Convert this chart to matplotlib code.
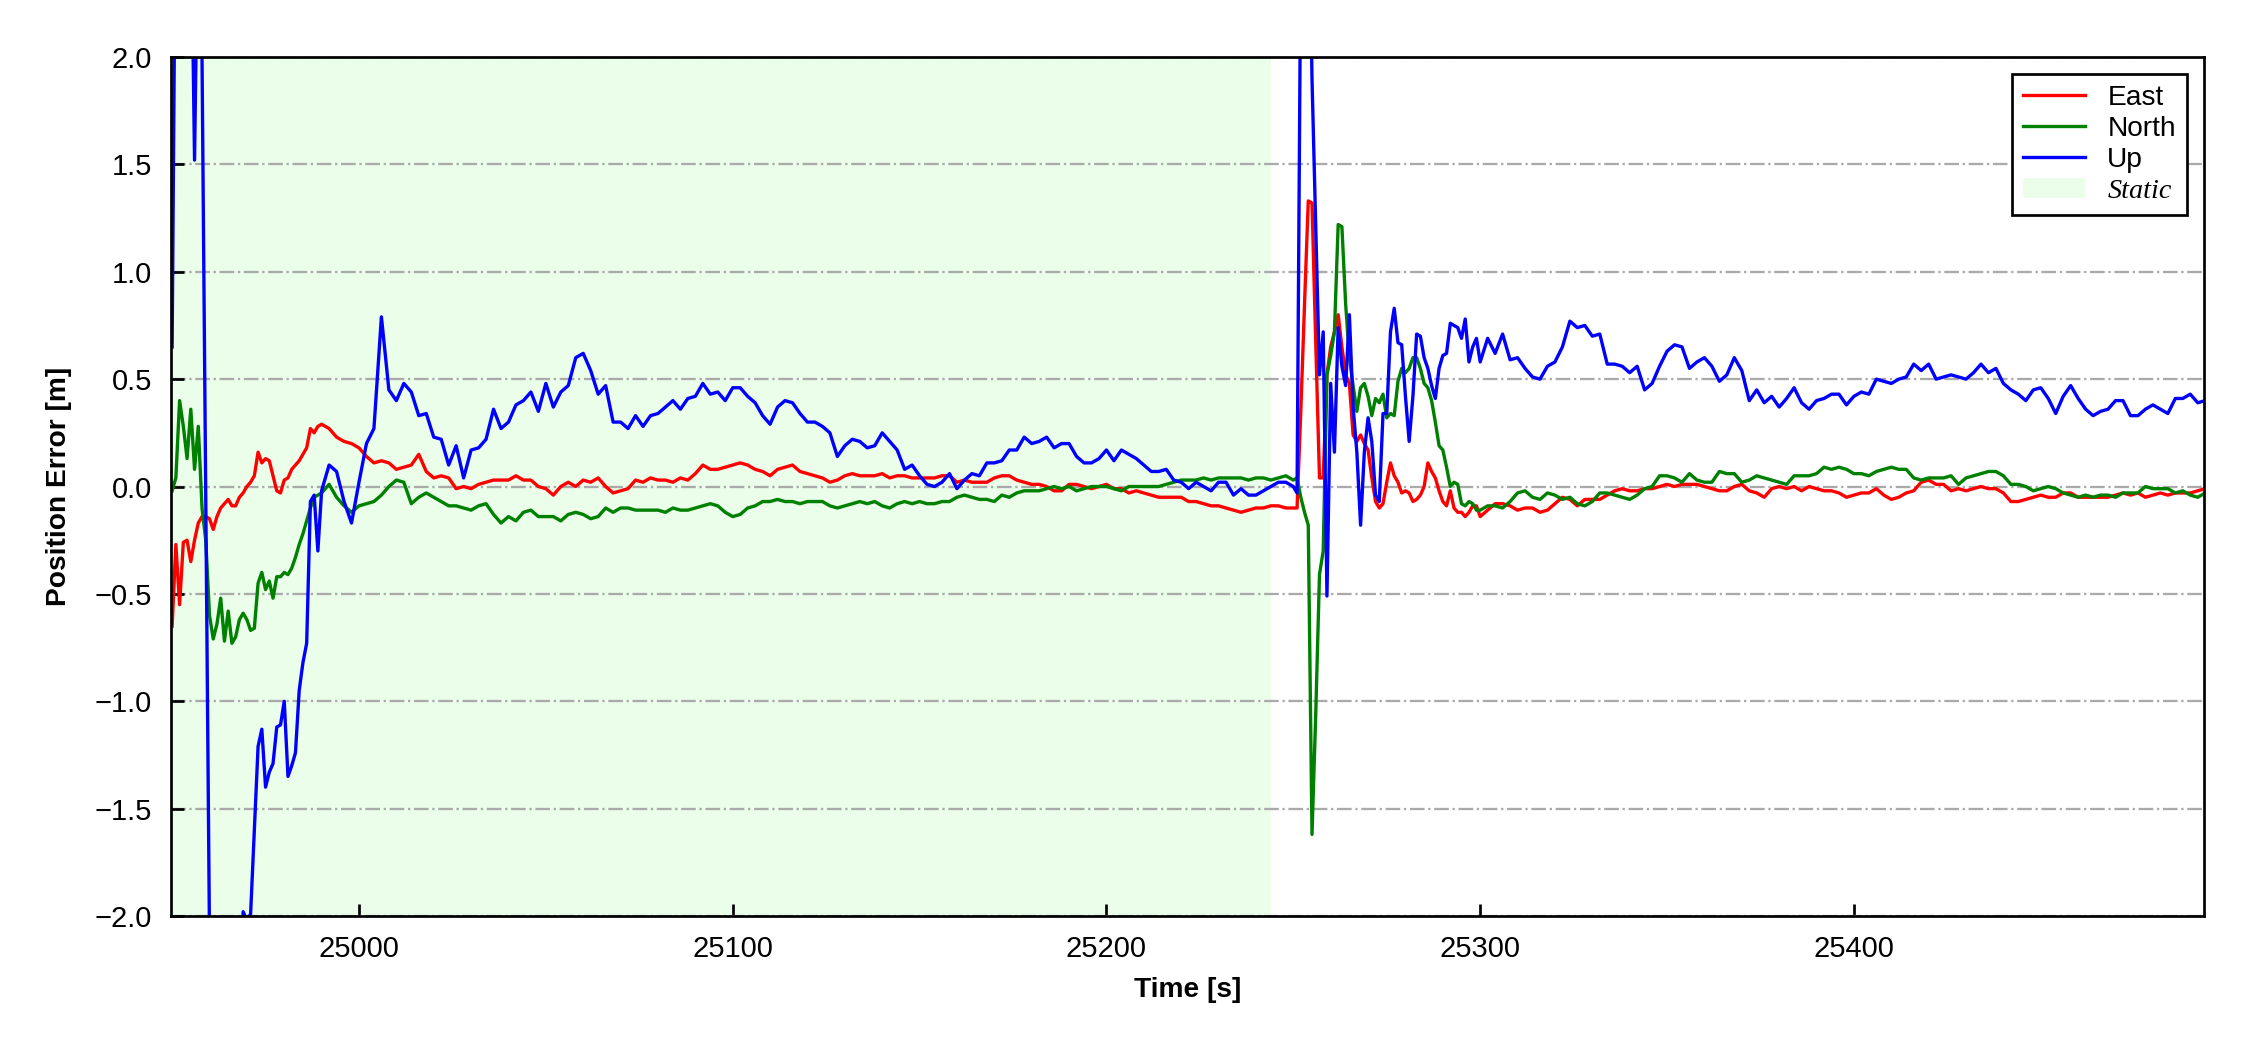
import numpy as np
import matplotlib
matplotlib.use('Agg')
import matplotlib.pyplot as plt

# position error of the solution, east / north / up [m]
# each series is kept in pieces: (start time [s], step [s], values)
east_a = [-0.65, -0.27, -0.55, -0.26, -0.25, -0.35, -0.25, -0.17, -0.14, -0.14,
          -0.15, -0.20, -0.14, -0.10, -0.08, -0.06, -0.09, -0.09, -0.05, -0.03,
          0.00, 0.02, 0.05, 0.16, 0.11, 0.13, 0.12, 0.05, -0.02, -0.03,
          0.03, 0.04, 0.08, 0.10, 0.12, 0.15, 0.18, 0.27, 0.25, 0.28]
east_b = [0.29, 0.27, 0.23, 0.21, 0.20, 0.18, 0.14, 0.11,
          0.12, 0.11, 0.08, 0.09, 0.10, 0.15, 0.07, 0.04, 0.05, 0.04,
          -0.01, 0.00, -0.01, 0.01, 0.02, 0.03, 0.03, 0.03, 0.05, 0.03,
          0.03, 0.00, -0.01, -0.04, 0.00, 0.02, 0.00, 0.03, 0.02, 0.04,
          0.00, -0.03, -0.02, -0.01, 0.03, 0.02, 0.04, 0.03, 0.03, 0.02,
          0.04, 0.03, 0.06, 0.10, 0.08, 0.08, 0.09, 0.10, 0.11, 0.10,
          0.08, 0.07, 0.05,
          0.08, 0.09, 0.10, 0.07, 0.06, 0.05, 0.04, 0.02, 0.03, 0.05,
          0.06, 0.05, 0.05, 0.05, 0.06, 0.04, 0.05, 0.05, 0.04, 0.04,
          0.04, 0.04, 0.05, 0.05, 0.02, 0.03, 0.02, 0.02, 0.02, 0.04,
          0.05, 0.05, 0.03, 0.02, 0.01, 0.01, 0.00, -0.02, -0.02, 0.01,
          0.01, 0.00, -0.01, 0.00, 0.01, -0.01, -0.01, -0.03, -0.02, -0.03,
          -0.04, -0.05, -0.05, -0.05, -0.05, -0.07, -0.07, -0.08, -0.09, -0.09,
          -0.10, -0.11, -0.12, -0.11, -0.10, -0.10, -0.09, -0.09, -0.10, -0.10]
east_c = [-0.10, 0.35, 0.85, 1.33, 1.32, 0.67, 0.04, 0.04, 0.52, 0.65,
          0.72, 0.80, 0.65, 0.52, 0.48, 0.24, 0.21, 0.24, 0.20, 0.17,
          0.04, -0.07, -0.10, -0.08, 0.02, 0.11, 0.05, 0.02, -0.03, -0.02,
          -0.03, -0.07, -0.06, -0.04, 0.00, 0.11, 0.07, 0.04, -0.02, -0.07,
          -0.09, -0.02, -0.10, -0.12, -0.12, -0.14, -0.12, -0.09, -0.09]
east_d = [-0.14, -0.11, -0.08, -0.08, -0.09, -0.11, -0.10, -0.10, -0.12, -0.11,
          -0.08, -0.05, -0.06, -0.09, -0.06, -0.06, -0.06, -0.04, -0.02, -0.01,
          -0.02, -0.02, -0.01, -0.01, 0.00, 0.01, 0.00, 0.01, 0.01, 0.01,
          0.00, -0.01, -0.02, -0.02, 0.00, 0.01, -0.02, -0.03, -0.05, -0.01,
          0.00, -0.01, 0.00, -0.02, 0.00, -0.01, -0.02, -0.02, -0.03, -0.05,
          -0.04, -0.03, -0.03, -0.01,
          -0.04, -0.06, -0.05, -0.03, -0.02, 0.02, 0.03, 0.01, 0.01, -0.02,
          -0.01, -0.02, -0.01, 0.00, -0.01, -0.01, -0.03, -0.07, -0.07, -0.06,
          -0.05, -0.04, -0.05, -0.05, -0.03, -0.03, -0.05, -0.05, -0.05, -0.05,
          -0.05, -0.04, -0.03, -0.04, -0.03, -0.05, -0.04, -0.03, -0.04, -0.03,
          -0.03, -0.03, -0.02, -0.01]

north_a = [-0.02, 0.04, 0.40, 0.28, 0.13, 0.36, 0.08, 0.28, -0.10, -0.25,
           -0.60, -0.71, -0.64, -0.52, -0.72, -0.58, -0.73, -0.70, -0.62, -0.59,
           -0.62, -0.67, -0.66, -0.45, -0.40, -0.48, -0.44, -0.52, -0.42, -0.42,
           -0.40, -0.41, -0.38, -0.33, -0.27, -0.22, -0.16, -0.10, -0.05, -0.04]
north_b = [-0.03, 0.01, -0.05, -0.09, -0.12, -0.09, -0.08, -0.07,
           -0.04, 0.00, 0.03, 0.02, -0.08, -0.05, -0.03, -0.05, -0.07, -0.09,
           -0.09, -0.10, -0.11, -0.09, -0.08, -0.13, -0.17, -0.14, -0.16, -0.12,
           -0.11, -0.14, -0.14, -0.14, -0.16, -0.13, -0.12, -0.13, -0.15, -0.14,
           -0.10, -0.12, -0.10, -0.10, -0.11, -0.11, -0.11, -0.11, -0.12, -0.10,
           -0.11, -0.11, -0.10, -0.09, -0.08, -0.09, -0.12, -0.14, -0.13, -0.10,
           -0.09, -0.07, -0.07,
           -0.06, -0.07, -0.07, -0.08, -0.07, -0.07, -0.07, -0.09, -0.10, -0.09,
           -0.08, -0.07, -0.08, -0.07, -0.09, -0.10, -0.08, -0.07, -0.08, -0.07,
           -0.08, -0.08, -0.07, -0.07, -0.05, -0.04, -0.05, -0.06, -0.06, -0.07,
           -0.04, -0.05, -0.03, -0.02, -0.02, -0.02, -0.01, 0.00, -0.01, 0.00,
           -0.02, -0.01, 0.00, 0.00, 0.00, -0.01, -0.02, 0.00, 0.00, 0.00,
           0.00, 0.00, 0.01, 0.02, 0.03, 0.03, 0.03, 0.04, 0.03, 0.04,
           0.04, 0.04, 0.04, 0.03, 0.04, 0.04, 0.03, 0.04, 0.05, 0.03]
north_c = [0.04, -0.05, -0.12, -0.18, -1.62, -1.06, -0.41, -0.30, 0.52, 0.61,
           0.72, 1.22, 1.21, 0.85, 0.60, 0.47, 0.35, 0.46, 0.48, 0.42,
           0.33, 0.41, 0.39, 0.43, 0.32, 0.34, 0.33, 0.49, 0.55, 0.53,
           0.55, 0.60, 0.60, 0.55, 0.48, 0.46, 0.40, 0.30, 0.19, 0.17,
           0.09, 0.00, 0.02, 0.01, -0.08, -0.09, -0.07, -0.08, -0.11]
north_d = [-0.11, -0.09, -0.09, -0.10, -0.07, -0.03, -0.02, -0.05, -0.06, -0.03,
           -0.04, -0.06, -0.05, -0.08, -0.09, -0.07, -0.03, -0.03, -0.04, -0.05,
           -0.06, -0.04, -0.01, 0.00, 0.05, 0.05, 0.04, 0.02, 0.06, 0.03,
           0.02, 0.02, 0.07, 0.06, 0.06, 0.02, 0.03, 0.05, 0.04, 0.03,
           0.02, 0.01, 0.05, 0.05, 0.05, 0.06, 0.09, 0.08, 0.09, 0.08,
           0.06, 0.06, 0.05, 0.07,
           0.08, 0.09, 0.08, 0.08, 0.04, 0.03, 0.04, 0.04, 0.04, 0.05,
           0.01, 0.04, 0.05, 0.06, 0.07, 0.07, 0.05, 0.01, 0.01, 0.00,
           -0.02, -0.01, 0.00, -0.01, -0.03, -0.04, -0.05, -0.04, -0.05, -0.04,
           -0.04, -0.05, -0.03, -0.03, -0.03, 0.00, -0.01, -0.01, -0.01, -0.03,
           -0.02, -0.04, -0.05, -0.03]

up_a = [0.65, 3.00, 3.50, 3.20, 3.00, 2.80, 1.52, 2.80, 2.00, -0.05,
        -2.10, -3.00, -3.00, -3.00, -3.00, -3.00, -3.00, -3.00, -2.50, -1.98,
        -2.02, -1.99, -1.60, -1.21, -1.13, -1.40, -1.33, -1.29, -1.12, -1.11,
        -1.00, -1.35, -1.30, -1.24, -0.95, -0.82, -0.73, -0.07, -0.04, -0.30]
up_b = [-0.02, 0.10, 0.07, -0.07, -0.17, 0.02, 0.20, 0.27,
        0.79, 0.45, 0.40, 0.48, 0.44, 0.33, 0.34, 0.23, 0.22, 0.10,
        0.19, 0.04, 0.17, 0.18, 0.22, 0.36, 0.27, 0.30, 0.38, 0.40,
        0.44, 0.35, 0.48, 0.37, 0.44, 0.47, 0.60, 0.62, 0.54, 0.43,
        0.47, 0.30, 0.30, 0.27, 0.33, 0.28, 0.33, 0.34, 0.37, 0.40,
        0.36, 0.41, 0.42, 0.48, 0.43, 0.44, 0.40, 0.46, 0.46, 0.42,
        0.39, 0.33, 0.29,
        0.37, 0.40, 0.39, 0.34, 0.30, 0.30, 0.28, 0.25, 0.14, 0.19,
        0.22, 0.21, 0.18, 0.19, 0.25, 0.21, 0.17, 0.08, 0.10, 0.05,
        0.01, 0.00, 0.02, 0.06, -0.01, 0.03, 0.06, 0.05, 0.11, 0.11,
        0.12, 0.17, 0.17, 0.23, 0.20, 0.21, 0.23, 0.18, 0.20, 0.20,
        0.14, 0.11, 0.11, 0.13, 0.17, 0.12, 0.17, 0.15, 0.13, 0.10,
        0.07, 0.07, 0.08, 0.03, 0.02, -0.01, 0.02, 0.00, -0.02, 0.02,
        0.02, -0.04, -0.01, -0.04, -0.04, -0.02, 0.00, 0.02, 0.02, 0.00]
up_c = [-0.03, 2.50, 3.50, 3.00, 1.90, 1.20, 0.52, 0.72, -0.51, 0.48,
        0.16, 0.74, 0.56, 0.47, 0.80, 0.37, 0.16, -0.18, 0.16, 0.32,
        0.21, -0.04, -0.07, 0.34, 0.34, 0.72, 0.83, 0.67, 0.66, 0.42,
        0.21, 0.42, 0.71, 0.70, 0.60, 0.55, 0.47, 0.41, 0.55, 0.61,
        0.62, 0.76, 0.75, 0.74, 0.69, 0.78, 0.58, 0.65, 0.69]
up_d = [0.58, 0.69, 0.62, 0.71, 0.59, 0.60, 0.55, 0.51, 0.50, 0.56,
        0.58, 0.65, 0.77, 0.74, 0.75, 0.70, 0.71, 0.57, 0.57, 0.56,
        0.53, 0.56, 0.45, 0.48, 0.56, 0.63, 0.66, 0.65, 0.55, 0.58,
        0.60, 0.56, 0.49, 0.52, 0.60, 0.54, 0.40, 0.45, 0.39, 0.42,
        0.37, 0.41, 0.46, 0.39, 0.36, 0.40, 0.41, 0.43, 0.43, 0.38,
        0.42, 0.44, 0.43, 0.50,
        0.49, 0.48, 0.50, 0.51, 0.57, 0.54, 0.57, 0.50, 0.51, 0.52,
        0.51, 0.50, 0.53, 0.57, 0.53, 0.55, 0.48, 0.45, 0.43, 0.40,
        0.45, 0.46, 0.41, 0.34, 0.42, 0.47, 0.41, 0.36, 0.33, 0.35,
        0.36, 0.40, 0.40, 0.33, 0.33, 0.36, 0.38, 0.36, 0.34, 0.41,
        0.41, 0.43, 0.39, 0.40]

# segment start times and sample steps
seg_start = [24950, 24990, 25251, 25300]
seg_step = [1, 2, 1, 2]

static_span = (24949.7, 25244)
x_range = (24949.7, 25493.7)


def build(pieces):
    t, v = [], []
    for start, step, vals in zip(seg_start, seg_step, pieces):
        t.extend(start + step * np.arange(len(vals)))
        v.extend(vals)
    return np.array(t), np.array(v)


t_e, east = build([east_a, east_b, east_c, east_d])
t_n, north = build([north_a, north_b, north_c, north_d])
t_u, up = build([up_a, up_b, up_c, up_d])

plt.rcParams['font.family'] = ['Liberation Sans', 'DejaVu Sans']

fig, ax = plt.subplots(figsize=(15, 7), dpi=150)
fig.subplots_adjust(left=0.076, right=0.9796, bottom=0.1276, top=0.9457)

ax.axvspan(static_span[0], static_span[1], color='palegreen', alpha=0.2, lw=0, label='Static', zorder=0)
ax.plot(t_e, east, color='red', lw=1.6, label='East')
ax.plot(t_n, north, color='green', lw=1.6, label='North')
ax.plot(t_u, up, color='blue', lw=1.6, label='Up')

ax.set_xlim(x_range)
ax.set_ylim(-2, 2)
ax.set_yticks(np.arange(-2, 2.01, 0.5))
ax.yaxis.grid(True, linestyle='-.', color='#aaaaaa', lw=1.1)
ax.set_axisbelow(True)

ax.tick_params(direction='in', length=6, width=1.3, labelsize=14, pad=9)
ax.tick_params(axis='x', top=False)
ax.tick_params(axis='y', right=False)
for s in ax.spines.values():
    s.set_linewidth(1.3)

ax.set_xlabel('Time [s]', fontsize=13.5, fontweight='bold', labelpad=7)
ax.set_ylabel('Position Error [m]', fontsize=13.5, fontweight='bold', labelpad=11)

handles, labels = ax.get_legend_handles_labels()
order = [1, 2, 3, 0]
leg = ax.legend([handles[i] for i in order], [labels[i] for i in order],
                loc='upper right', fontsize=13.5, fancybox=False, edgecolor='black',
                framealpha=1, borderaxespad=0.6, handlelength=2.2, labelspacing=0.18,
                borderpad=0.4)
leg.get_frame().set_linewidth(1.3)
leg.get_texts()[3].set_family('Liberation Serif')
leg.get_texts()[3].set_style('italic')

plt.savefig('out.png', dpi=150)
